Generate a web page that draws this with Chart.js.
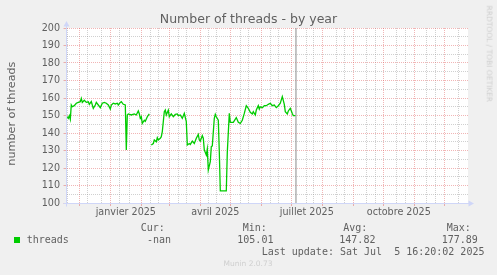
<!DOCTYPE html>
<html><head><meta charset="utf-8">
<script src="https://cdn.jsdelivr.net/npm/chart.js@4.4.1/dist/chart.umd.min.js"></script>
<style>
html,body{margin:0;padding:0;background:#f0f0f0;}
#wrap{position:relative;width:497px;height:275px;overflow:hidden;background:#f0f0f0;}
canvas{position:absolute;left:0;top:0;}
.t{position:absolute;white-space:pre;line-height:1;color:#606060;font-family:"DejaVu Sans",sans-serif;}
.m{font-family:"DejaVu Sans Mono",monospace;font-size:10px;}
</style></head><body>
<div id="wrap">
<canvas id="c" width="497" height="275"></canvas>
<div class="t" style="left:0;width:497px;text-align:center;top:12.9px;font-size:12.5px;">Number of threads - by year</div>
<div class="t" style="left:-88.4px;width:200px;text-align:center;top:108.4px;font-size:11.2px;transform:rotate(-90deg);">number of threads</div>
<div class="t" style="left:428.8px;width:120px;text-align:center;top:49.75px;font-size:7.5px;color:#cfcfcf;transform:rotate(90deg);">RRDTOOL / TOBI OETIKER</div>
<div style="position:absolute;left:14px;top:237px;width:6px;height:6px;background:#00cc00;"></div>
<div class="t m" style="left:26.7px;top:234.8px;">threads</div>
<div class="t m" style="left:140.7px;top:222.5px;">Cur:</div>
<div class="t m" style="left:242.7px;top:222.5px;">Min:</div>
<div class="t m" style="left:343.3px;top:222.5px;">Avg:</div>
<div class="t m" style="left:446.7px;top:222.5px;">Max:</div>
<div class="t m" style="left:147px;top:234.8px;">-nan</div>
<div class="t m" style="left:237.3px;top:234.8px;">105.01</div>
<div class="t m" style="left:339.3px;top:234.8px;">147.82</div>
<div class="t m" style="left:441.7px;top:234.8px;">177.89</div>
<div class="t m" style="left:261.7px;top:246.5px;">Last update: Sat Jul  5 16:20:02 2025</div>
<div class="t" style="left:0;width:496px;text-align:center;top:259.9px;font-size:7.5px;color:#cfcfcf;">Munin 2.0.73</div>
</div>
<script>
// x values: days relative to 1 Jan 2025
const days = [
 -43,-42,-41,-40,-39,-38,-36,-34,-32,-30,
 -29,-28,-26,-24,-22,-21,-19,-17,-15,-14,
 -12,-10,-8,-6,-4,-2,0,1,3,5,
 7,8,10,11,13,15,16,17,18,21,
 24,26,28,29,30,31,32,34,35,37,
 39,40,41,43,44,46,47,48,50,51,
 52,54,55,56,58,59,61,63,65,67,
 68,70,72,74,76,77,79,80,82,84,
 86,88,89,90,92,93,94,96,97,98,
 100,101,102,104,105,106,108,109,110,114,
 116,117,119,120,123,126,128,130,132,134,
 136,138,140,142,143,145,146,148,149,150,
 152,154,156,158,160,162,164,166,168,170,
 171,172,174,175,177,178,180,182,183,185
];
const threads = [
 149.3,148.4,149.9,147.8,156,155,155.6,157,157.5,157.9,
 159.8,157.5,158.7,157.5,157.8,156.4,158,154.1,156,157.5,
 156,154.5,157,157.5,157,156,153.7,156,157,156.6,
 157,156,157.5,157.9,156.4,156,130.3,150.3,150.9,150.3,
 150.9,150.3,152.6,151,148.4,149.3,145.5,147.3,146.7,149.3,
 150.9,null,133.1,134,136,135,137.3,136,137,137.9,
 140.8,152.2,153.1,150.3,153.1,149.3,150.9,149.3,150.6,150.9,
 149.9,150.3,148.4,151.2,146.5,133.1,134,133.5,135.4,134,
 137,139.2,136,135.4,138.5,137,130.3,127.4,130.9,118.9,
 123.6,132.2,132.6,148.4,150.7,149.3,147.3,129.3,106.9,106.9,
 106.9,129,151.2,146.1,146.1,148.8,146.1,145.5,147.3,151.2,
 155.6,154.1,151.8,150.9,152.2,150.3,153.1,155.6,153.7,155,
 154.5,155.6,155.6,156.4,157,155.6,156,154.5,155.6,157,
 158.9,160.8,156.4,152.2,150.9,152.6,154.1,151.2,149.9,149.9
];
const monthStarts = [-31,0,31,59,90,120,151,181,212,243,273,304,334];
const minorGridDays = [-43,-23,-9,9,19,40,48,68,76,98,106,130,138,160,168,196,203,226,234,256,265,286,295,316,325,348];
const labelDays = [15.5,105,196.5,288.5];
const labelTexts = ['janvier 2025','avril 2025','juillet 2025','octobre 2025'];
const lastUpdateDay = 185.68;
const xMin = -43.8, xMax = 357.7;
const yMin = 100, yMax = 200, yStep = 5;

const RED = 'rgba(222,79,79,0.42)';
const GRAY = 'rgba(143,143,143,0.42)';
const AXIS = '#CFD6F8';
const FONT = '#606060';

const allXTicks = [...new Set([...monthStarts, ...minorGridDays, ...labelDays])].sort((a,b)=>a-b);

const bgPlugin = {
  id:'bg',
  beforeDraw(chart){
    const {ctx, chartArea:a} = chart;
    ctx.save(); ctx.fillStyle='#fff';
    ctx.fillRect(a.left, a.top, a.right-a.left, a.bottom-a.top);
    ctx.restore();
  }
};
const axesPlugin = {
  id:'axes',
  afterDraw(chart){
    const {ctx, chartArea:a} = chart;
    const lx = Math.round(a.left-0.5)+0.5, by = Math.round(a.bottom-0.5)+0.5;
    ctx.save();
    ctx.strokeStyle = AXIS; ctx.fillStyle = AXIS; ctx.lineWidth = 1;
    ctx.beginPath();
    ctx.moveTo(lx, by+3); ctx.lineTo(lx, a.top-2);
    ctx.moveTo(lx-3, by); ctx.lineTo(a.right+1, by);
    ctx.stroke();
    ctx.beginPath();
    ctx.moveTo(lx, a.top-7); ctx.lineTo(lx-3, a.top-1.5); ctx.lineTo(lx+3, a.top-1.5); ctx.closePath(); ctx.fill();
    ctx.beginPath();
    ctx.moveTo(a.right+6, by); ctx.lineTo(a.right+0.5, by-3); ctx.lineTo(a.right+0.5, by+3); ctx.closePath(); ctx.fill();
    ctx.restore();
  }
};

new Chart(document.getElementById('c'), {
  type:'line',
  data:{datasets:[
    {data: days.map((d,i)=>({x:d, y:threads[i]})), borderColor:'#00cc00', borderWidth:1.3, pointRadius:0, fill:false, tension:0, spanGaps:false},
    {data:[{x:lastUpdateDay,y:yMin},{x:lastUpdateDay,y:yMax}], borderColor:'#8a8a8a', borderWidth:1, pointRadius:0, fill:false}
  ]},
  options:{
    responsive:false, animation:false, devicePixelRatio:1,
    layout:{padding:{top:28, right:29, left:0, bottom:0}},
    plugins:{legend:{display:false}, tooltip:{enabled:false}, title:{display:false}},
    scales:{
      x:{
        type:'linear', min:xMin, max:xMax,
        afterFit(s){ s.height = 72; },
        afterBuildTicks(s){ s.ticks = allXTicks.map(v=>({value:v})); },
        ticks:{autoSkip:false, maxRotation:0, minRotation:0, padding:1, color:FONT,
          font:{family:'DejaVu Sans', size:9.6},
          callback(v){ const i = labelDays.indexOf(v); return i>=0 ? labelTexts[i] : ''; }},
        grid:{
          lineWidth:1, tickLength:3,
          color(c){ const v=c.tick&&c.tick.value; return monthStarts.includes(v)?RED:(minorGridDays.includes(v)?GRAY:'rgba(0,0,0,0)'); },
          tickColor(c){ const v=c.tick&&c.tick.value; return monthStarts.includes(v)?RED:'rgba(0,0,0,0)'; }
        },
        border:{display:false, dash:[1,1]}
      },
      y:{
        min:yMin, max:yMax,
        afterFit(s){ s.width = 66.5; },
        ticks:{stepSize:yStep, autoSkip:false, padding:3.5, color:FONT,
          font:{family:'DejaVu Sans', size:9.6},
          callback(v){ return v%10===0 ? String(v) : ''; }},
        grid:{
          lineWidth:1, tickLength:3,
          color(c){ const v=c.tick&&c.tick.value; return v%10===0?RED:GRAY; },
          tickColor(c){ const v=c.tick&&c.tick.value; return v%10===0?RED:'rgba(0,0,0,0)'; }
        },
        border:{display:false, dash:[1,1]}
      }
    }
  },
  plugins:[bgPlugin, axesPlugin]
});
</script>
</body></html>
